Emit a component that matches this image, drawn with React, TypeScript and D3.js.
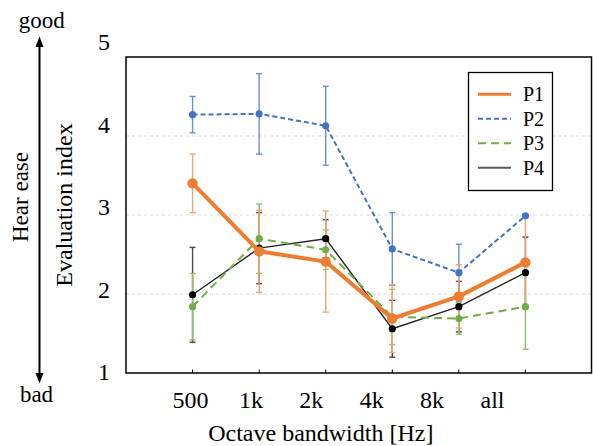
import React from "react";
import * as d3 from "d3";

const categories = ["500", "1k", "2k", "4k", "8k", "all"];
const p1 = [3.4, 2.54, 2.41, 1.69, 1.97, 2.4];
const p1Err = [0.37, 0.52, 0.64, 0.43, 0.4, 0.58];
const p2 = [4.27, 4.28, 4.13, 2.57, 2.27, 2.99];
const p2Err = [0.23, 0.51, 0.5, 0.46, 0.36, 0];
const p3 = [1.84, 2.7, 2.56, 1.71, 1.69, 1.84];
const p3Err = [0.42, 0.44, 0.25, 0.35, 0.2, 0.54];
const p4 = [1.99, 2.58, 2.7, 1.56, 1.84, 2.27];
const p4Err = [0.6, 0.45, 0.24, 0.36, 0.32, 0.45];
const yTicks = [1, 2, 3, 4, 5];
const gridValues = [2, 3, 4];
const seriesNames = ["P1", "P2", "P3", "P4"];

const W = 593;
const H = 446;
const FONT = "'Liberation Serif', 'Times New Roman', 'DejaVu Serif', serif";

type Series = {
  name: string;
  values: number[];
  errs: number[];
  color: string;
  errColor: string;
  width: number;
  dash: string | null;
  r: number;
  marker: string;
};

export default function App() {
  const plot = { left: 126, right: 592, top: 57, bottom: 373 };
  const x = d3.scaleLinear().domain([-1, categories.length]).range([plot.left, plot.right]);
  const y = d3.scaleLinear().domain([1, 5]).range([plot.bottom, plot.top]);
  // overlay label scales (labels in the picture are offset from the plot)
  const xLab = d3.scalePoint<string>().domain(categories).range([190.5, 492.5]);
  const yLab = d3.scaleLinear().domain([1, 5]).range([372, 42]);

  const series: Series[] = [
    { name: seriesNames[0], values: p1, errs: p1Err, color: "#ED7D31", errColor: "#F2A46F", width: 4, dash: null, r: 5.2, marker: "#ED7D31" },
    { name: seriesNames[1], values: p2, errs: p2Err, color: "#4472C4", errColor: "#6A8FD3", width: 2, dash: "5,3", r: 3.6, marker: "#4472C4" },
    { name: seriesNames[2], values: p3, errs: p3Err, color: "#70AD47", errColor: "#8DC06A", width: 2, dash: "8,5", r: 3.6, marker: "#70AD47" },
    { name: seriesNames[3], values: p4, errs: p4Err, color: "#262626", errColor: "#4a4a4a", width: 1.4, dash: null, r: 3.6, marker: "#000" },
  ];

  const line = d3
    .line<number>()
    .x((_, i) => x(i))
    .y((d) => y(d));

  const drawOrder = [3, 2, 1, 0];
  const ts = { fontFamily: FONT };

  return (
    <svg width={W} height={H} style={{ position: "absolute", left: 0, top: 0, background: "#fff", fontFamily: FONT }}>
      <rect x={0} y={0} width={W} height={H} fill="#fff" />
      {gridValues.map((g) => (
        <line key={g} x1={plot.left} x2={plot.right} y1={y(g)} y2={y(g)} stroke="#d9d9d9" strokeWidth={1} strokeDasharray="3,3" />
      ))}
      <rect x={plot.left} y={plot.top} width={plot.right - plot.left - 0.5} height={plot.bottom - plot.top} fill="none" stroke="#000" strokeWidth={1.5} />
      {categories.map((c, i) => (
        <line key={c} x1={x(i)} x2={x(i)} y1={plot.bottom} y2={plot.bottom - 3.5} stroke="#000" strokeWidth={1} />
      ))}
      {drawOrder.map((si) => {
        const s = series[si];
        return (
          <g key={"err" + s.name}>
            {s.values.map((v, i) =>
              s.errs[i] > 0 ? (
                <g key={i} stroke={s.errColor} strokeWidth={1.4}>
                  <line x1={x(i)} x2={x(i)} y1={y(v - s.errs[i])} y2={y(v + s.errs[i])} />
                  <line x1={x(i) - 3} x2={x(i) + 3} y1={y(v - s.errs[i])} y2={y(v - s.errs[i])} />
                  <line x1={x(i) - 3} x2={x(i) + 3} y1={y(v + s.errs[i])} y2={y(v + s.errs[i])} />
                </g>
              ) : null
            )}
          </g>
        );
      })}
      {drawOrder.map((si) => {
        const s = series[si];
        return (
          <g key={"ln" + s.name}>
            <path d={line(s.values) || ""} fill="none" stroke={s.color} strokeWidth={s.width} strokeDasharray={s.dash || undefined} strokeLinejoin="round" />
            {s.values.map((v, i) => (
              <circle key={i} cx={x(i)} cy={y(v)} r={s.r} fill={s.marker} />
            ))}
          </g>
        );
      })}
      <rect x={468.5} y={72.5} width={84} height={118} fill="#fff" stroke="#000" strokeWidth={1.3} />
      {series.map((s, i) => {
        const ly = 94.3 + i * 24.45;
        return (
          <g key={"lg" + s.name}>
            <line x1={478} x2={511} y1={ly} y2={ly} stroke={s.name === "P4" ? "#595959" : s.color} strokeWidth={s.name === "P1" ? 3 : 2} strokeDasharray={s.dash || undefined} />
            <text x={523} y={ly} dy="0.35em" fontSize={20} fill="#000" style={ts}>
              {s.name}
            </text>
          </g>
        );
      })}
      {yTicks.map((t) => (
        <text key={t} x={110} y={yLab(t)} dy="0.35em" textAnchor="end" fontSize={24} fill="#000" style={ts}>
          {t}
        </text>
      ))}
      {categories.map((c) => (
        <text key={c} x={xLab(c)} y={408} textAnchor="middle" fontSize={24} fill="#000" style={ts}>
          {c}
        </text>
      ))}
      <text x={320.8} y={441} textAnchor="middle" fontSize={24} fill="#000" style={ts}>
        Octave bandwidth [Hz]
      </text>
      <text transform="translate(72,205) rotate(-90)" textAnchor="middle" fontSize={24} fill="#000" style={ts}>
        Evaluation index
      </text>
      <text transform="translate(28,197) rotate(-90)" textAnchor="middle" fontSize={23} fill="#000" style={ts}>
        Hear ease
      </text>
      <line x1={39.5} x2={39.5} y1={45} y2={375} stroke="#000" strokeWidth={2} />
      <path d="M39.5,36.5 L35.5,47 L43.5,47 Z" fill="#000" />
      <path d="M39.5,383.5 L35.5,373 L43.5,373 Z" fill="#000" />
      <text x={41.7} y={28} textAnchor="middle" fontSize={23} fill="#000" style={ts}>
        good
      </text>
      <text x={36.5} y={402} textAnchor="middle" fontSize={23} fill="#000" style={ts}>
        bad
      </text>
    </svg>
  );
}
